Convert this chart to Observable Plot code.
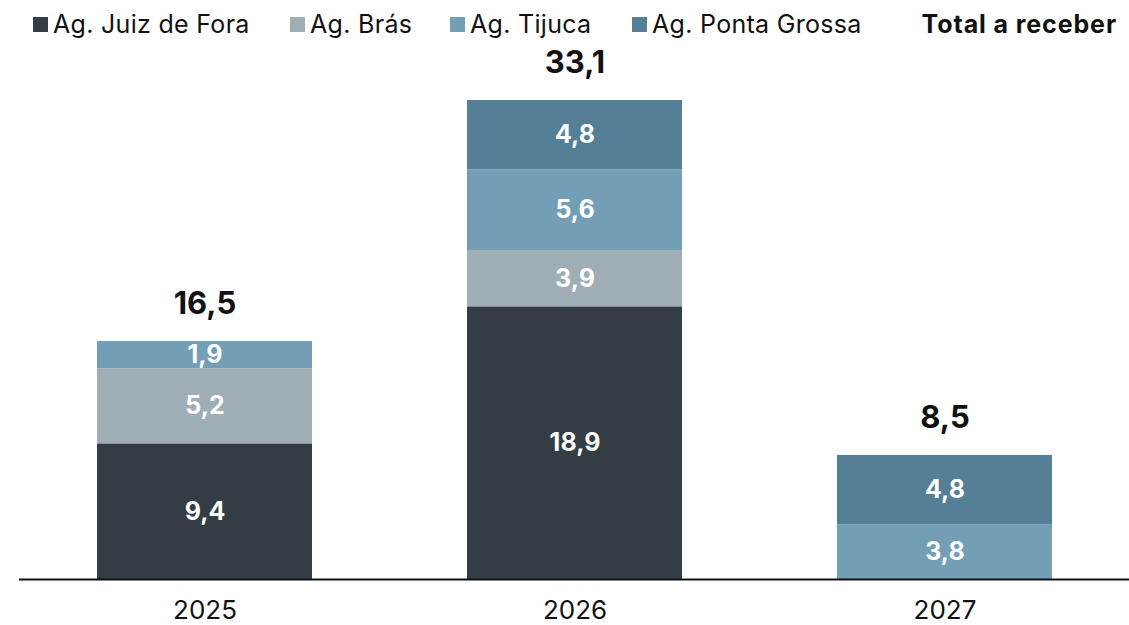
<!DOCTYPE html>
<html>
<head>
<meta charset="utf-8">
<script src="https://cdn.jsdelivr.net/npm/d3@7"></script>
<script src="https://cdn.jsdelivr.net/npm/@observablehq/plot@0.6"></script>
<style>
  body { margin: 0; background: #fff; font-family: Inter, "Noto Sans", sans-serif; }
  #wrap { position: relative; width: 1129px; height: 625px; overflow: hidden; }
  #legend { position: relative; height: 40px; font-size: 25px; color: #111; }
  .item { position: absolute; top: 9px; display: flex; align-items: center; white-space: nowrap; letter-spacing: 0.3px; line-height: 30px; }
  .sw { width: 15px; height: 15px; margin-right: 5px; display: inline-block; }
  .total { position: absolute; top: 9px; right: 12px; font-weight: 700; letter-spacing: 0.9px; line-height: 30px; }
  svg { display: block; }
</style>
</head>
<body>
<div id="wrap">
  <div id="legend"></div>
  <div id="chart"></div>
</div>
<script>
const years = ["2025", "2026", "2027"];
const series = ["Ag. Juiz de Fora", "Ag. Brás", "Ag. Tijuca", "Ag. Ponta Grossa"];
const juizDeFora = [9.4, 18.9, 0];
const bras = [5.2, 3.9, 0];
const tijuca = [1.9, 5.6, 3.8];
const pontaGrossa = [0, 4.8, 4.8];
const totals = [16.5, 33.1, 8.5];
const colors = ["#333d43", "#9faeb5", "#739eb6", "#557e97"];
const totalLabel = "Total a receber";

const seriesValues = [juizDeFora, bras, tijuca, pontaGrossa];
const data = [];
series.forEach((s, i) => {
  years.forEach((y, j) => {
    const v = seriesValues[i][j];
    if (v > 0) data.push({year: y, series: s, value: v});
  });
});
const totalData = years.map((y, j) => ({
  year: y,
  total: totals[j],
  top: d3.sum(seriesValues, sv => sv[j])
}));
const fmt = v => v.toFixed(1).replace(".", ",");

// Legend
const legend = document.getElementById("legend");
const legendLeft = [33, 290, 450, 632];
series.forEach((s, i) => {
  const el = document.createElement("div");
  el.className = "item";
  el.style.left = legendLeft[i] + "px";
  el.innerHTML = `<span class="sw" style="background:${colors[i]}"></span><span>${s}</span>`;
  legend.appendChild(el);
});
const tl = document.createElement("div");
tl.className = "total";
tl.textContent = totalLabel;
legend.appendChild(tl);

const yMax = d3.max(totalData, d => d.top);

const chart = Plot.plot({
  width: 1129,
  height: 585,
  marginLeft: 19,
  marginRight: 0,
  marginTop: 60,
  marginBottom: 46,
  style: {fontFamily: "Inter, 'Noto Sans', sans-serif", background: "#fff"},
  x: {domain: years, padding: 0.42, paddingOuter: 0.21, label: null},
  y: {domain: [0, yMax], axis: null},
  color: {domain: series, range: colors},
  marks: [
    Plot.barY(data, Plot.stackY({x: "year", y: "value", fill: "series", z: "series", order: series})),
    Plot.text(data, Plot.stackY({
      x: "year", y: "value", z: "series", order: series,
      text: d => fmt(d.value), fill: "white", fontSize: 25, fontWeight: 700
    })),
    Plot.text(totalData, {
      x: "year", y: "top", text: d => fmt(d.total), dy: -37,
      fill: "#111", fontSize: 31, fontWeight: 700
    }),
    Plot.ruleY([0], {stroke: "#111", strokeWidth: 2}),
    Plot.axisX({tickSize: 0, tickPadding: 21, fontSize: 26, fill: "#111", label: null})
  ]
});
document.getElementById("chart").appendChild(chart);
</script>
</body>
</html>
